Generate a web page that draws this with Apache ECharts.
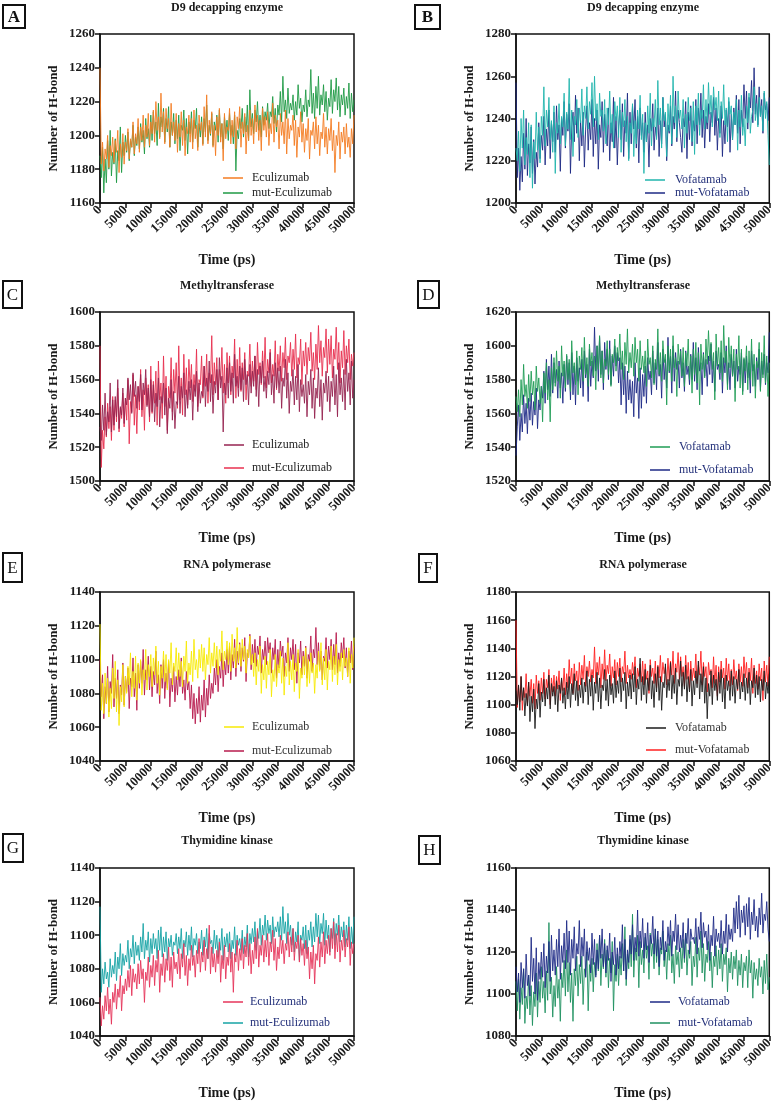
<!DOCTYPE html>
<html><head><meta charset="utf-8">
<script src="https://cdn.jsdelivr.net/npm/echarts@6/dist/echarts.min.js"></script>
<style>html,body{margin:0;padding:0;background:#fff}#c{width:776px;height:1101px}</style>
</head><body><div id="c"></div>
<script>
// ---- data (sampled every 250 ps, 0..50000 ps) ----
const TIME_STEP = 250;
const xTickLabels = [0,5000,10000,15000,20000,25000,30000,35000,40000,45000,50000];

const A_eculizumab = [1240,
1183,1196,1179,1192,1186,1200,1181,1194,1188,1199,
1184,1197,1190,1203,1178,1195,1187,1201,1183,1196,
1191,1204,1186,1198,1193,1208,1189,1201,1195,1210,
1190,1205,1197,1212,1193,1206,1199,1213,1194,1208,
1201,1215,1196,1220,1203,1211,1198,1225,1202,1214,
1195,1216,1204,1210,1193,1219,1200,1208,1197,1213,
1190,1207,1199,1214,1194,1209,1188,1205,1201,1212,
1196,1210,1192,1215,1198,1206,1191,1212,1203,1208,
1194,1217,1199,1224,1195,1209,1201,1214,1193,1206,
1188,1211,1200,1216,1196,1207,1185,1213,1198,1205,
1203,1216,1195,1209,1199,1214,1192,1211,1204,1217,
1193,1208,1201,1213,1189,1206,1197,1215,1200,1210,
1195,1218,1202,1212,1197,1209,1191,1216,1203,1211,
1199,1214,1194,1207,1201,1219,1196,1212,1205,1209,
1192,1213,1200,1208,1195,1215,1189,1210,1198,1206,
1203,1212,1194,1209,1187,1205,1199,1214,1196,1207,
1190,1204,1197,1210,1186,1203,1200,1208,1192,1211,
1195,1206,1188,1202,1198,1213,1193,1205,1189,1204,
1197,1210,1191,1203,1178,1200,1194,1208,1186,1202,
1196,1205,1189,1207,1193,1199,1187,1204,1195,1212];
const A_mutEculizumab = [1188,
1175,1193,1166,1186,1172,1197,1180,1203,1176,1190,
1183,1198,1172,1191,1185,1205,1178,1196,1188,1200,
1190,1202,1185,1197,1193,1206,1188,1199,1194,1205,
1192,1207,1196,1203,1189,1210,1198,1204,1193,1212,
1197,1214,1201,1208,1194,1219,1199,1211,1205,1216,
1196,1210,1202,1217,1193,1208,1200,1213,1195,1209,
1198,1212,1191,1206,1203,1215,1197,1210,1189,1208,
1201,1214,1196,1209,1204,1216,1193,1207,1199,1211,
1195,1210,1202,1218,1197,1206,1200,1213,1194,1208,
1203,1212,1196,1215,1199,1207,1192,1211,1201,1209,
1197,1213,1200,1206,1195,1212,1179,1203,1198,1210,
1204,1216,1199,1211,1202,1218,1197,1227,1205,1213,
1201,1215,1208,1220,1203,1212,1199,1217,1206,1214,
1209,1219,1204,1214,1211,1223,1207,1216,1202,1218,
1212,1226,1208,1235,1214,1221,1210,1228,1213,1219,
1215,1224,1209,1220,1212,1230,1216,1222,1208,1218,
1214,1227,1211,1221,1217,1239,1213,1225,1210,1229,
1216,1235,1212,1224,1218,1230,1214,1226,1209,1222,
1217,1233,1213,1227,1220,1234,1215,1229,1211,1224,
1218,1228,1212,1223,1216,1231,1210,1225,1214,1221];

const B_vofatamab = [1226,
1220,1234,1215,1240,1226,1244,1218,1231,1223,1238,
1212,1237,1207,1229,1221,1243,1225,1236,1219,1241,
1232,1255,1227,1244,1236,1250,1230,1239,1224,1246,
1214,1238,1233,1247,1228,1241,1236,1252,1227,1243,
1235,1259,1230,1244,1222,1241,1237,1249,1231,1245,
1238,1254,1232,1246,1240,1255,1235,1248,1242,1257,
1236,1260,1239,1247,1230,1252,1241,1244,1234,1249,
1228,1245,1237,1253,1233,1242,1226,1248,1239,1246,
1231,1250,1224,1243,1236,1249,1229,1241,1220,1238,
1233,1247,1222,1239,1228,1244,1235,1251,1230,1242,
1214,1238,1229,1246,1233,1252,1227,1240,1236,1249,
1230,1258,1237,1245,1226,1250,1239,1243,1222,1247,
1234,1251,1228,1260,1238,1246,1231,1253,1240,1244,
1235,1249,1226,1242,1233,1250,1239,1245,1229,1248,
1223,1246,1237,1252,1232,1244,1240,1256,1235,1249,
1238,1257,1242,1251,1236,1255,1244,1250,1239,1253,
1231,1248,1240,1256,1237,1245,1229,1250,1242,1246,
1230,1243,1237,1249,1225,1244,1236,1251,1232,1240,
1227,1246,1238,1252,1233,1241,1244,1255,1239,1247,
1236,1250,1241,1246,1234,1253,1240,1248,1232,1218];
const B_mutVofatamab = [1257,
1212,1226,1206,1222,1210,1233,1216,1240,1213,1228,
1219,1236,1214,1230,1209,1224,1217,1238,1221,1232,
1225,1241,1218,1235,1227,1244,1221,1238,1229,1243,
1224,1246,1230,1237,1215,1240,1232,1248,1226,1242,
1234,1247,1214,1236,1243,1229,1251,1233,1245,1220,
1239,1227,1243,1217,1235,1246,1225,1238,1230,1249,
1222,1240,1228,1244,1216,1237,1231,1248,1224,1242,
1233,1227,1245,1220,1238,1229,1250,1226,1241,1218,
1236,1244,1230,1247,1222,1239,1233,1252,1221,1243,
1228,1246,1235,1249,1226,1241,1219,1245,1232,1238,
1224,1243,1229,1237,1217,1240,1234,1247,1225,1236,
1231,1245,1222,1239,1228,1250,1236,1242,1220,1237,
1233,1246,1227,1241,1235,1253,1229,1244,1238,1231,
1224,1240,1236,1248,1221,1243,1230,1246,1227,1239,
1234,1249,1228,1245,1237,1252,1231,1244,1226,1241,
1235,1247,1229,1243,1238,1250,1232,1245,1225,1240,
1233,1246,1222,1239,1228,1244,1236,1248,1224,1242,
1230,1245,1237,1251,1233,1249,1228,1244,1236,1256,
1240,1253,1235,1250,1245,1258,1238,1264,1242,1251,
1237,1255,1241,1249,1233,1252,1244,1247,1239,1250];

const C_eculizumab = [1532,
1524,1545,1530,1552,1527,1541,1535,1558,1529,1548,
1533,1550,1538,1560,1531,1544,1539,1555,1534,1549,
1545,1561,1548,1557,1540,1564,1550,1559,1543,1556,
1547,1563,1542,1558,1551,1566,1544,1555,1538,1560,
1541,1557,1535,1552,1544,1561,1532,1550,1546,1558,
1539,1555,1528,1549,1543,1560,1536,1553,1531,1547,
1545,1562,1540,1556,1549,1564,1538,1554,1543,1559,
1548,1560,1536,1557,1550,1565,1541,1558,1546,1553,
1550,1568,1544,1561,1553,1571,1547,1563,1540,1559,
1552,1566,1548,1573,1555,1562,1529,1558,1551,1567,
1549,1570,1553,1564,1546,1575,1556,1562,1550,1568,
1554,1567,1547,1572,1557,1563,1545,1569,1552,1565,
1556,1574,1550,1566,1544,1568,1558,1571,1553,1562,
1549,1565,1557,1576,1551,1563,1546,1570,1555,1567,
1552,1568,1543,1561,1556,1572,1549,1564,1540,1559,
1553,1566,1545,1562,1548,1569,1541,1560,1550,1557,
1546,1563,1538,1559,1551,1566,1543,1561,1537,1555,
1549,1567,1544,1560,1536,1558,1552,1565,1547,1562,
1541,1559,1550,1568,1545,1563,1538,1570,1551,1561,
1547,1566,1542,1572,1553,1564,1545,1571,1549,1560];
const C_mutEculizumab = [1580,
1508,1530,1519,1538,1526,1546,1531,1544,1524,1550,
1530,1548,1535,1555,1529,1543,1537,1552,1532,1549,
1536,1560,1522,1547,1541,1563,1533,1551,1528,1556,
1542,1566,1538,1554,1530,1561,1545,1557,1535,1568,
1540,1559,1546,1565,1533,1571,1548,1558,1537,1574,
1544,1562,1530,1556,1549,1573,1541,1566,1552,1570,
1543,1580,1548,1561,1539,1575,1551,1567,1545,1572,
1555,1569,1547,1563,1553,1578,1544,1560,1557,1574,
1549,1568,1556,1575,1546,1564,1558,1586,1551,1570,
1557,1573,1548,1566,1560,1579,1552,1569,1546,1576,
1558,1574,1551,1568,1561,1584,1549,1572,1555,1579,
1553,1570,1560,1576,1548,1565,1562,1581,1556,1571,
1559,1574,1554,1582,1563,1570,1557,1577,1561,1585,
1555,1572,1564,1578,1558,1569,1562,1583,1554,1575,
1565,1580,1559,1576,1567,1585,1560,1574,1570,1582,
1562,1578,1566,1587,1561,1573,1569,1584,1557,1577,
1568,1582,1563,1579,1571,1588,1565,1576,1560,1581,
1566,1592,1570,1583,1562,1579,1573,1590,1564,1584,
1569,1586,1561,1578,1572,1591,1566,1582,1558,1577,
1567,1589,1563,1580,1570,1584,1560,1575,1568,1576];

const D_vofatamab = [1570,
1561,1574,1558,1580,1565,1589,1570,1577,1563,1583,
1567,1585,1571,1579,1562,1588,1573,1581,1566,1576,
1555,1584,1572,1590,1568,1580,1555,1587,1574,1593,
1576,1597,1579,1588,1569,1600,1582,1591,1575,1595,
1580,1592,1573,1603,1584,1590,1577,1597,1571,1594,
1586,1599,1579,1605,1583,1593,1576,1601,1588,1596,
1582,1594,1574,1600,1586,1606,1581,1597,1578,1592,
1588,1603,1583,1598,1576,1595,1590,1604,1585,1599,
1591,1607,1586,1597,1580,1602,1589,1610,1584,1596,
1587,1601,1582,1605,1590,1598,1579,1603,1586,1594,
1584,1597,1576,1604,1589,1593,1581,1600,1577,1592,
1586,1610,1583,1596,1579,1603,1590,1595,1565,1600,
1585,1598,1579,1606,1587,1593,1570,1601,1589,1597,
1582,1599,1576,1596,1588,1604,1580,1594,1572,1598,
1583,1602,1578,1596,1565,1601,1586,1595,1581,1604,
1589,1609,1591,1602,1586,1596,1568,1607,1588,1599,
1584,1603,1579,1612,1590,1597,1574,1605,1587,1600,
1582,1598,1567,1595,1586,1606,1575,1598,1571,1593,
1585,1600,1574,1597,1580,1604,1576,1595,1569,1591,
1587,1602,1573,1596,1581,1606,1578,1594,1570,1590];
const D_mutVofatamab = [1535,
1552,1565,1544,1560,1549,1571,1554,1566,1548,1569,
1556,1572,1553,1567,1559,1575,1551,1568,1562,1576,
1569,1585,1566,1592,1574,1588,1570,1595,1572,1590,
1578,1586,1569,1591,1575,1584,1566,1589,1573,1594,
1577,1590,1568,1596,1571,1588,1565,1593,1579,1587,
1575,1592,1570,1597,1581,1589,1567,1598,1576,1591,
1581,1611,1585,1600,1579,1605,1583,1597,1574,1602,
1586,1598,1580,1603,1577,1594,1582,1600,1588,1596,
1578,1593,1565,1590,1571,1588,1560,1585,1568,1580,
1566,1579,1558,1590,1572,1581,1557,1587,1563,1583,
1570,1588,1566,1593,1580,1585,1571,1597,1578,1590,
1574,1602,1582,1589,1569,1598,1580,1592,1575,1605,
1584,1594,1572,1600,1579,1596,1586,1591,1575,1598,
1581,1590,1573,1597,1583,1588,1577,1595,1580,1602,
1579,1593,1574,1599,1585,1590,1571,1596,1582,1592,
1576,1594,1583,1601,1578,1591,1573,1597,1586,1589,
1580,1596,1572,1593,1584,1600,1577,1590,1574,1595,
1582,1591,1575,1598,1579,1588,1583,1596,1573,1592,
1578,1594,1581,1590,1572,1597,1585,1589,1576,1593,
1580,1598,1574,1591,1583,1595,1577,1590,1584,1608];

const E_eculizumab = [1121,
1070,1086,1068,1092,1074,1089,1066,1083,1071,1095,
1077,1099,1069,1088,1061,1084,1075,1097,1072,1090,
1080,1096,1085,1104,1078,1093,1083,1102,1076,1098,
1086,1100,1079,1094,1088,1106,1082,1097,1090,1103,
1084,1101,1091,1108,1086,1099,1079,1096,1089,1105,
1087,1103,1082,1100,1092,1110,1085,1098,1093,1107,
1088,1104,1090,1099,1084,1102,1093,1111,1086,1098,
1091,1105,1087,1112,1094,1100,1089,1106,1095,1109,
1093,1107,1088,1103,1097,1113,1092,1104,1096,1110,
1095,1108,1091,1106,1099,1117,1094,1105,1100,1111,
1097,1110,1093,1115,1099,1107,1095,1119,1098,1109,
1096,1112,1100,1108,1092,1106,1101,1114,1097,1103,
1090,1104,1085,1100,1093,1108,1080,1097,1088,1102,
1083,1099,1091,1106,1078,1094,1087,1103,1084,1097,
1092,1105,1086,1101,1079,1096,1090,1110,1085,1099,
1088,1103,1081,1098,1093,1106,1077,1095,1089,1102,
1091,1107,1084,1100,1086,1104,1092,1098,1080,1097,
1089,1105,1093,1110,1085,1101,1088,1106,1082,1099,
1094,1108,1087,1102,1091,1109,1085,1100,1093,1104,
1088,1106,1096,1101,1090,1107,1086,1103,1095,1113];
const E_mutEculizumab = [1100,
1078,1091,1065,1084,1074,1096,1069,1087,1080,1103,
1072,1089,1077,1094,1068,1085,1079,1098,1073,1090,
1081,1095,1071,1089,1084,1101,1078,1092,1070,1097,
1083,1099,1086,1106,1079,1094,1088,1102,1082,1096,
1078,1093,1085,1105,1080,1091,1074,1097,1083,1100,
1077,1092,1083,1099,1072,1089,1081,1096,1075,1090,
1079,1094,1084,1101,1080,1088,1076,1093,1082,1087,
1071,1085,1065,1080,1062,1077,1068,1084,1063,1079,
1070,1088,1066,1083,1073,1091,1077,1086,1080,1095,
1085,1100,1081,1096,1089,1104,1084,1099,1091,1106,
1092,1108,1088,1103,1095,1112,1090,1105,1097,1110,
1093,1107,1099,1113,1087,1104,1101,1115,1094,1109,
1098,1112,1096,1108,1103,1114,1092,1106,1100,1111,
1097,1113,1104,1110,1092,1107,1100,1112,1089,1106,
1095,1111,1102,1108,1090,1104,1098,1113,1093,1107,
1100,1112,1094,1109,1086,1104,1098,1111,1091,1105,
1096,1108,1089,1103,1099,1114,1093,1106,1101,1119,
1097,1110,1094,1105,1088,1102,1099,1113,1095,1108,
1100,1112,1094,1109,1097,1116,1092,1104,1096,1110,
1101,1113,1095,1107,1090,1105,1098,1111,1094,1108];

const F_vofatamab = [1110,
1100,1114,1096,1120,1103,1112,1092,1108,1099,1116,
1088,1106,1095,1111,1083,1104,1097,1115,1091,1109,
1102,1118,1099,1112,1104,1121,1097,1115,1106,1113,
1100,1117,1095,1114,1108,1119,1101,1112,1097,1116,
1104,1120,1098,1115,1107,1122,1103,1117,1099,1114,
1105,1119,1101,1116,1109,1124,1100,1118,1106,1121,
1096,1116,1108,1123,1102,1119,1097,1114,1110,1125,
1103,1118,1099,1121,1107,1115,1101,1124,1105,1117,
1108,1126,1102,1119,1110,1123,1097,1116,1106,1121,
1104,1122,1109,1127,1100,1118,1111,1133,1103,1120,
1107,1125,1101,1119,1110,1128,1104,1117,1098,1122,
1109,1127,1103,1120,1096,1116,1112,1129,1105,1118,
1110,1130,1104,1121,1108,1126,1100,1118,1113,1131,
1106,1123,1111,1128,1102,1120,1109,1125,1099,1117,
1107,1124,1112,1131,1104,1122,1109,1127,1101,1119,
1090,1115,1106,1124,1100,1121,1110,1118,1103,1123,
1108,1125,1102,1119,1097,1121,1110,1117,1103,1124,
1106,1120,1101,1118,1111,1125,1104,1116,1109,1122,
1103,1119,1108,1123,1100,1117,1112,1126,1105,1121,
1107,1120,1102,1118,1110,1124,1104,1116,1108,1122];
const F_mutVofatamab = [1160,
1098,1113,1102,1120,1096,1112,1105,1122,1100,1116,
1106,1118,1101,1115,1097,1121,1108,1117,1103,1119,
1108,1123,1104,1118,1112,1125,1100,1119,1109,1121,
1106,1120,1111,1124,1103,1118,1110,1126,1107,1122,
1112,1132,1115,1126,1108,1129,1117,1124,1110,1130,
1114,1128,1118,1135,1113,1127,1120,1131,1116,1125,
1119,1141,1115,1130,1121,1134,1112,1129,1118,1139,
1117,1128,1122,1136,1113,1127,1119,1132,1114,1130,
1120,1133,1116,1127,1122,1138,1115,1128,1119,1125,
1118,1130,1121,1134,1112,1126,1120,1129,1116,1131,
1114,1129,1118,1124,1108,1132,1120,1126,1115,1131,
1112,1128,1119,1135,1116,1130,1122,1127,1114,1133,
1117,1131,1121,1138,1115,1129,1123,1137,1118,1134,
1120,1127,1113,1135,1118,1130,1111,1131,1117,1126,
1119,1136,1115,1128,1121,1138,1114,1130,1120,1127,
1109,1130,1121,1125,1112,1134,1115,1128,1106,1127,
1116,1131,1119,1126,1111,1133,1117,1129,1113,1125,
1114,1132,1118,1124,1110,1129,1116,1127,1113,1134,
1119,1130,1112,1126,1117,1133,1108,1128,1115,1124,
1111,1129,1117,1126,1103,1131,1116,1128,1113,1134];

const G_eculizumab = [1063,
1046,1058,1050,1064,1055,1069,1053,1062,1047,1066,
1060,1071,1056,1068,1063,1076,1055,1070,1065,1074,
1067,1079,1069,1082,1064,1080,1072,1077,1068,1083,
1071,1085,1074,1080,1060,1078,1073,1087,1069,1082,
1075,1088,1070,1085,1078,1091,1066,1083,1076,1089,
1072,1086,1079,1093,1073,1087,1069,1090,1080,1084,
1077,1092,1074,1089,1081,1095,1076,1088,1070,1086,
1079,1094,1082,1088,1075,1091,1083,1098,1078,1090,
1084,1097,1079,1092,1086,1106,1077,1093,1081,1089,
1078,1091,1083,1096,1072,1088,1080,1094,1074,1087,
1082,1095,1078,1090,1066,1089,1084,1097,1079,1092,
1085,1098,1080,1094,1087,1101,1082,1095,1077,1091,
1083,1099,1086,1104,1081,1094,1088,1100,1084,1097,
1087,1101,1082,1096,1090,1103,1085,1098,1079,1093,
1086,1100,1089,1097,1083,1095,1091,1102,1087,1099,
1090,1104,1085,1096,1092,1100,1084,1098,1088,1095,
1082,1097,1086,1093,1074,1090,1080,1094,1071,1089,
1085,1099,1081,1096,1087,1102,1083,1097,1089,1100,
1088,1104,1092,1108,1086,1101,1090,1106,1084,1097,
1091,1103,1087,1098,1093,1105,1082,1096,1089,1095];
const G_mutEculizumab = [1117,
1066,1080,1071,1084,1074,1078,1069,1086,1075,1082,
1077,1090,1073,1087,1080,1095,1076,1089,1082,1088,
1084,1097,1080,1092,1087,1100,1083,1096,1088,1094,
1085,1099,1090,1107,1086,1097,1091,1102,1084,1098,
1089,1101,1092,1098,1086,1103,1091,1105,1087,1099,
1090,1102,1085,1098,1093,1100,1088,1096,1094,1101,
1089,1099,1092,1104,1086,1097,1093,1102,1088,1100,
1091,1105,1087,1098,1094,1101,1089,1096,1092,1103,
1088,1099,1093,1104,1086,1101,1095,1097,1089,1103,
1092,1100,1087,1098,1091,1104,1085,1099,1093,1101,
1090,1102,1086,1097,1092,1105,1088,1100,1094,1098,
1091,1103,1089,1099,1093,1106,1087,1101,1095,1104,
1096,1108,1091,1103,1098,1110,1094,1106,1100,1112,
1097,1109,1101,1106,1095,1111,1099,1105,1102,1108,
1099,1111,1097,1117,1101,1108,1095,1113,1100,1106,
1094,1104,1090,1102,1096,1108,1085,1100,1097,1105,
1092,1106,1089,1103,1097,1108,1093,1105,1096,1113,
1099,1112,1095,1107,1101,1113,1094,1109,1098,1106,
1090,1104,1098,1110,1094,1107,1100,1112,1096,1105,
1099,1108,1093,1106,1097,1111,1092,1105,1095,1111];

const H_vofatamab = [1113,
1101,1110,1096,1115,1103,1112,1098,1119,1104,1109,
1099,1127,1106,1117,1100,1122,1097,1115,1107,1120,
1108,1124,1103,1118,1110,1125,1106,1128,1111,1121,
1109,1126,1113,1131,1107,1123,1115,1129,1112,1135,
1115,1130,1109,1126,1117,1132,1111,1124,1119,1135,
1113,1127,1118,1131,1108,1125,1116,1122,1110,1129,
1114,1126,1108,1121,1112,1128,1117,1131,1113,1124,
1110,1123,1116,1129,1106,1120,1114,1127,1109,1122,
1112,1125,1117,1133,1111,1126,1107,1121,1115,1128,
1119,1133,1116,1127,1120,1140,1118,1130,1122,1136,
1117,1129,1121,1134,1115,1128,1124,1137,1119,1131,
1118,1130,1113,1127,1121,1135,1116,1125,1120,1132,
1123,1135,1118,1130,1125,1138,1121,1133,1120,1128,
1122,1134,1117,1129,1124,1136,1119,1131,1126,1127,
1124,1136,1119,1132,1126,1139,1122,1134,1127,1130,
1121,1133,1116,1128,1123,1137,1118,1131,1125,1129,
1122,1135,1119,1130,1124,1138,1120,1133,1126,1131,
1125,1141,1129,1144,1131,1147,1127,1140,1134,1142,
1128,1143,1132,1146,1126,1139,1133,1145,1130,1137,
1127,1141,1133,1148,1129,1138,1135,1144,1131,1125];
const H_mutVofatamab = [1106,
1092,1107,1088,1103,1095,1112,1086,1099,1093,1109,
1090,1104,1085,1101,1094,1110,1089,1106,1096,1113,
1098,1106,1091,1111,1097,1134,1100,1108,1089,1104,
1094,1113,1098,1107,1087,1110,1103,1116,1099,1121,
1101,1115,1096,1110,1087,1112,1104,1118,1099,1114,
1105,1118,1095,1112,1108,1120,1092,1114,1106,1117,
1101,1115,1109,1124,1111,1128,1104,1119,1112,1126,
1108,1121,1103,1117,1110,1125,1092,1114,1106,1119,
1104,1118,1109,1124,1111,1132,1104,1119,1112,1126,
1113,1138,1108,1122,1116,1128,1103,1125,1114,1121,
1110,1127,1117,1123,1107,1129,1118,1124,1112,1131,
1115,1126,1109,1122,1119,1130,1113,1121,1107,1124,
1116,1128,1110,1119,1105,1123,1114,1120,1108,1122,
1112,1126,1115,1129,1109,1121,1117,1125,1104,1118,
1113,1127,1108,1122,1116,1130,1110,1124,1106,1119,
1115,1125,1111,1120,1103,1118,1113,1123,1109,1121,
1112,1124,1106,1119,1114,1122,1101,1117,1110,1120,
1107,1118,1112,1121,1104,1116,1109,1119,1103,1115,
1111,1118,1103,1121,1110,1116,1098,1115,1107,1112,
1104,1117,1108,1113,1100,1116,1105,1119,1102,1108];

const panelLetters = ['A','B','C','D','E','F','G','H'];
const panelTitles = ['D9 decapping enzyme','D9 decapping enzyme','Methyltransferase','Methyltransferase',
                     'RNA polymerase','RNA polymerase','Thymidine kinase','Thymidine kinase'];
const yMins = [1160,1200,1500,1520,1040,1060,1040,1080];
const yMaxs = [1260,1280,1600,1620,1140,1180,1140,1160];
const seriesNames = [['Eculizumab','mut-Eculizumab'],['Vofatamab','mut-Vofatamab']];
const seriesData = [
  [A_eculizumab, A_mutEculizumab],[B_vofatamab, B_mutVofatamab],
  [C_eculizumab, C_mutEculizumab],[D_vofatamab, D_mutVofatamab],
  [E_eculizumab, E_mutEculizumab],[F_vofatamab, F_mutVofatamab],
  [G_eculizumab, G_mutEculizumab],[H_vofatamab, H_mutVofatamab]
];

// ---- styling / layout ----
const colors = [
  ['#f47c22','#1f9a45'],['#20b5ad','#1e2a84'],
  ['#962350','#e8304f'],['#1f9c55','#1e2a86'],
  ['#f7ea06','#b71a4d'],['#1b1b1b','#ff2020'],
  ['#e6345a','#16a3a5'],['#1e2a86','#1f9160']
];
const legendTextColors = ['#222','#23307a','#222','#23307a','#333','#333','#23307a','#23307a'];
const colLeft = [100, 516];
const rowTop = [34, 312, 592, 868];
const rowTitleY = [10, 288, 567, 843];
const plotW = 254, plotH = 169;
const legendPos = [
  [223,178,193,252],[645,180,193,675],
  [224,445,468,252],[650,447,470,679],
  [224,727,751,252],[646,728,750,675],
  [223,1002,1023,250],[650,1002,1023,678]
];
const letterBoxes = [
  [3,5,22,23,true],[415,5,25,24,true],
  [3,281,19,27,false],[418,281,21,27,false],
  [3,553,19,29,false],[419,554,18,28,false],
  [3,834,20,28,false],[419,836,21,28,false]
];
const FONT = '"Liberation Serif","Times New Roman",serif';

const grid = [], xAxis = [], yAxis = [], series = [], elements = [], title = [];
for (let p = 0; p < 8; p++) {
  const col = p % 2, row = Math.floor(p / 2);
  const left = colLeft[col], top = rowTop[row];
  grid.push({left, top, width: plotW, height: plotH, show: true, borderColor: '#111', borderWidth: 1.5, containLabel: false});
  xAxis.push({
    gridIndex: p, type: 'value', min: 0, max: 50000, interval: 5000,
    axisLine: {show: true, onZero: false, lineStyle: {color: '#111', width: 1.5}},
    axisTick: {show: true, length: 5, lineStyle: {color: '#111', width: 1.5}},
    axisLabel: {rotate: 45, margin: 5, fontFamily: FONT, fontWeight: 'bold', fontSize: 13, color: '#1a1a1a',
      formatter: v => xTickLabels.includes(v) ? String(v) : ''},
    splitLine: {show: false},
    name: 'Time (ps)', nameLocation: 'middle', nameGap: 50,
    nameTextStyle: {fontFamily: FONT, fontWeight: 'bold', fontSize: 14, color: '#1a1a1a'}
  });
  yAxis.push({
    gridIndex: p, type: 'value', min: yMins[p], max: yMaxs[p], interval: 20,
    axisLine: {show: true, onZero: false, lineStyle: {color: '#111', width: 1.5}},
    axisTick: {show: true, length: 5, lineStyle: {color: '#111', width: 1.5}},
    axisLabel: {margin: 5, fontFamily: FONT, fontWeight: 'bold', fontSize: 13, color: '#1a1a1a',
      formatter: v => String(v)},
    splitLine: {show: false},
    name: 'Number of H-bond', nameLocation: 'middle', nameGap: 40,
    nameTextStyle: {fontFamily: FONT, fontWeight: 'bold', fontSize: 13, color: '#1a1a1a'}
  });
  const names = seriesNames[col];
  // mutant drawn first, wild-type on top
  for (const k of [1, 0]) {
    series.push({
      type: 'line', name: names[k], xAxisIndex: p, yAxisIndex: p,
      data: seriesData[p][k].map((v, i) => [i * TIME_STEP, v]),
      showSymbol: false, symbol: 'none', sampling: 'none',
      lineStyle: {color: colors[p][k], width: 1, opacity: 0.9},
      itemStyle: {color: colors[p][k]}, z: 2
    });
  }
  // panel title
  title.push({text: panelTitles[p], left: left + plotW / 2, top: rowTitleY[row] - 8, textAlign: 'center', padding: 0,
    textStyle: {fontFamily: FONT, fontWeight: 'bold', fontSize: 12, color: '#1a1a1a'}});
  // letter box
  const lb = letterBoxes[p];
  elements.push({type: 'rect', shape: {x: lb[0], y: lb[1], width: lb[2], height: lb[3]},
    style: {fill: '#fff', stroke: '#111', lineWidth: 2}});
  elements.push({type: 'text', x: lb[0] + lb[2] / 2, y: lb[1] + lb[3] / 2 + 1,
    style: {text: panelLetters[p], font: (lb[4] ? 'bold ' : '') + '17px ' + FONT, fill: '#111', textAlign: 'center', textVerticalAlign: 'middle'}});
  // legend
  const lp = legendPos[p];
  [lp[1], lp[2]].forEach((yy, k) => {
    elements.push({type: 'line', shape: {x1: lp[0], y1: yy, x2: lp[0] + 20, y2: yy},
      style: {stroke: colors[p][k], lineWidth: 1.5}, z: 10});
    elements.push({type: 'text', x: lp[3], y: yy, z: 10,
      style: {text: names[k], font: '12px ' + FONT, fill: legendTextColors[p], textAlign: 'left', textVerticalAlign: 'middle'}});
  });
}

const chart = echarts.init(document.getElementById('c'), null, {renderer: 'canvas'});
chart.setOption({animation: false, backgroundColor: '#fff', title, grid, xAxis, yAxis, series, graphic: {elements}});
</script>
</body></html>
